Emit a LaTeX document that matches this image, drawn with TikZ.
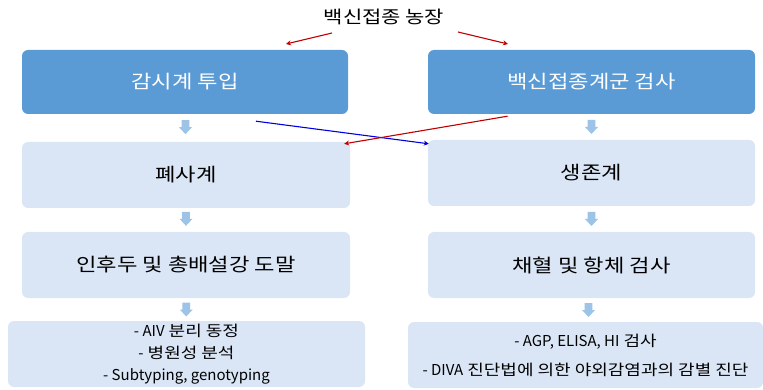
\documentclass[tikz,border=0pt]{standalone}
\usepackage{fontspec}
\setmainfont[FakeStretch=1.2]{Noto Sans CJK KR}
\newfontfamily\latinfont{Noto Sans CJK KR}
\usetikzlibrary{arrows.meta}
\definecolor{darkbox}{HTML}{5B9BD5}
\definecolor{lightbox}{HTML}{DAE6F6}
\definecolor{smallarrow}{HTML}{9DC3E6}
\definecolor{redline}{HTML}{C00000}
\definecolor{blueline}{HTML}{0000E0}
\newcommand{\lt}[1]{{\latinfont #1}}
\tikzset{
  topbox/.style={fill=darkbox, rounded corners=6pt, text=white, font=\fontsize{18.5}{22}\selectfont, inner sep=0pt},
  midbox/.style={fill=lightbox, rounded corners=6pt, text=black, font=\fontsize{18.5}{22}\selectfont, inner sep=0pt},
  lowbox/.style={fill=lightbox, rounded corners=6pt, text=black, font=\fontsize{15}{22}\selectfont, inner sep=0pt, align=center},
  dnarrow/.pic={\fill[smallarrow] (-3.8,-7) -- (3.8,-7) -- (3.8,0) -- (6.5,0) -- (0,7) -- (-6.5,0) -- (-3.8,0) -- cycle;},
  redarr/.style={draw=redline, line width=1.1pt, -{Stealth[length=5pt,width=5pt]}},
  bluearr/.style={draw=blueline, line width=1.1pt, -{Stealth[length=5pt,width=5pt]}}
}
\begin{document}
\begin{tikzpicture}[x=1pt,y=-1pt]
\useasboundingbox (0,0) rectangle (763,390);
\node[font=\fontsize{17.5}{20}\selectfont] (title) at (384,17) {백신접종 농장};
\coordinate (tl) at (332,33);
\coordinate (tr) at (458,32);
\node[topbox, minimum width=326pt, minimum height=64pt] (A) at (185,82) {감시계 투입};
\node[topbox, minimum width=327pt, minimum height=64pt] (B) at (591.5,82) {백신접종계군 검사};
\node[midbox, minimum width=328pt, minimum height=66pt] (C) at (186,175) {폐사계};
\node[midbox, minimum width=327pt, minimum height=66pt] (D) at (591.5,173) {생존계};
\node[midbox, minimum width=328pt, minimum height=66pt] (E) at (186,265) {인후두 및 총배설강 도말};
\node[midbox, minimum width=327pt, minimum height=66pt] (F) at (591.5,265) {채혈 및 항체 검사};
\node[lowbox, minimum width=357pt, minimum height=66pt] (G) at (186.5,354) {\lt{- AIV} 분리 동정\\\lt{-} 병원성 분석\\\lt{- Subtyping, genotyping}};
\node[lowbox, minimum width=355pt, minimum height=66pt] (H) at (585.5,355) {\lt{- AGP, ELISA, HI} 검사\\[7pt]\lt{- DIVA} 진단법에 의한 야외감염과의 감별 진단};
\draw[redarr] (tl) -- (286,44);
\draw[redarr] (tr) -- (508,44);
\path (A.south) -- (C.north) pic[pos=0.47] {dnarrow};
\path (B.south) -- (D.north) pic[pos=0.5] {dnarrow};
\path (C.south) -- (E.north) pic[pos=0.45] {dnarrow};
\path (D.south) -- (F.north) pic[pos=0.5] {dnarrow};
\path (E.south) -- (G.north) pic[pos=0.5] {dnarrow};
\path (F.south) -- (H.north) pic[pos=0.5] {dnarrow};
\draw[bluearr] ([xshift=71pt,yshift=-7pt]A.south) -- ([xshift=1pt,yshift=-4pt]D.north west);
\draw[redarr] ([xshift=-84pt,yshift=-2pt]B.south) -- ([xshift=-6pt,yshift=-2pt]C.north east);
\end{tikzpicture}
\end{document}
